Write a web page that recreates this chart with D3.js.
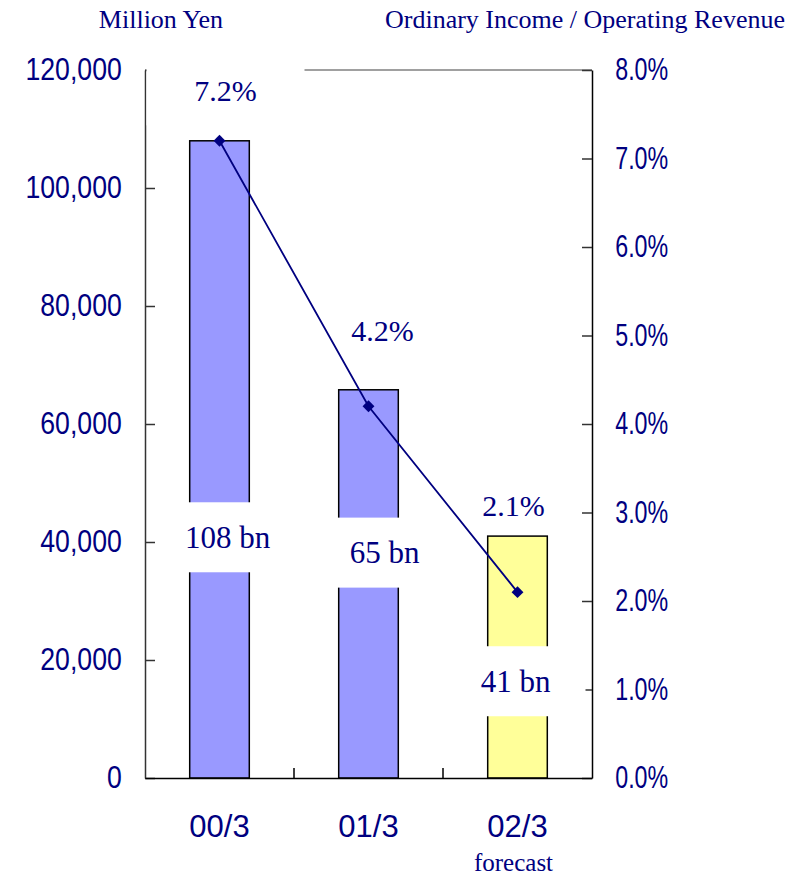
<!DOCTYPE html>
<html>
<head>
<meta charset="UTF-8">
<title>Ordinary Income</title>
<script src="https://cdn.jsdelivr.net/npm/d3@7"></script>
<style>
  body { margin: 0; background: #fff; }
</style>
</head>
<body>
<div id="app"></div>
<script>
    // data
    var years = ['00/3', '01/3', '02/3'];
    var income = [108000, 65800, 41000];        // million yen
    var ratio = [7.2, 4.2, 2.1];                // ordinary income / operating revenue (%)
    var incomeText = ['108 bn', '65 bn', '41 bn'];
    var leftTicks = [0, 20000, 40000, 60000, 80000, 100000, 120000];
    var rightTicks = [0, 1, 2, 3, 4, 5, 6, 7, 8];
    // where the labels sit (axis units)
    var incomeLabelAt = [40800, 38200, 16400];
    var ratioLabelAt = [7.77, 5.06, 3.08];
    var labelDx = [6, 14, -4];
    var navy = '#000080';

    var W = 811, H = 880;
    var x0 = 145, x1 = 592, yTop = 70, yBot = 778;

    var svg = d3.select('#app').append('svg')
        .attr('width', W).attr('height', H);

    var x = d3.scaleBand().domain(years).range([x0, x1])
        .paddingInner(0.6).paddingOuter(0.3);
    var yL = d3.scaleLinear().domain([0, 120000]).range([yBot, yTop]);
    var yR = d3.scaleLinear().domain([0, 8]).range([yBot, yTop]);
    var fmt = d3.format(',');

    // frame top line
    svg.append('line')
        .attr('x1', x0).attr('x2', x1).attr('y1', yTop).attr('y2', yTop)
        .attr('stroke', '#808080').attr('stroke-width', 1.5);

    // bars
    svg.selectAll('rect.bar').data(income).enter().append('rect')
        .attr('class', 'bar')
        .attr('x', function(d, i) { return x(years[i]); })
        .attr('width', x.bandwidth())
        .attr('y', function(d) { return yL(d); })
        .attr('height', function(d) { return yBot - yL(d); })
        .attr('fill', function(d, i) { return i == 2 ? '#ffff99' : '#9999ff'; })
        .attr('stroke', '#000').attr('stroke-width', 1.5);

    // left axis
    var axL = svg.append('g').attr('transform', 'translate(' + x0 + ',0)')
        .call(d3.axisLeft(yL).tickValues(leftTicks).tickFormat(fmt)
            .tickSizeInner(-10).tickSizeOuter(0).tickPadding(27));
    axL.select('.domain').attr('stroke', '#333').attr('stroke-width', 1.5);
    axL.selectAll('.tick line').attr('stroke', '#333').attr('stroke-width', 1.5);

    // right axis
    var axR = svg.append('g').attr('transform', 'translate(' + x1 + ',0)')
        .call(d3.axisRight(yR).tickValues(rightTicks)
            .tickFormat(function(d) { return d.toFixed(1) + '%'; })
            .tickSizeInner(-10).tickSizeOuter(0).tickPadding(31));
    axR.select('.domain').attr('stroke', '#000').attr('stroke-width', 1.5);
    axR.selectAll('.tick line').attr('stroke', '#333').attr('stroke-width', 1.5);

    // bottom axis
    var axB = svg.append('g').attr('transform', 'translate(0,' + yBot + ')')
        .call(d3.axisBottom(x).tickSize(0).tickPadding(37));
    axB.select('.domain').attr('stroke', '#000').attr('stroke-width', 1.5);
    // boundary ticks between categories
    var bounds = years.slice(1).map(function(d) { return x(d) + x.bandwidth() / 2 - x.step() / 2; });
    svg.selectAll('line.bt').data(bounds).enter().append('line')
        .attr('x1', function(d) { return d; }).attr('x2', function(d) { return d; })
        .attr('y1', yBot - 10).attr('y2', yBot)
        .attr('stroke', '#000').attr('stroke-width', 1.5);

    [axL, axR, axB].forEach(function(g) {
        g.selectAll('text')
            .attr('fill', navy)
            .style('font-family', '"Liberation Sans", Arial, sans-serif')
            .style('font-size', '31px');
    });
    axL.selectAll('.tick text').attr('transform', 'scale(0.86,1)');
    axR.selectAll('.tick text').attr('transform', 'scale(0.75,1)');

    // ratio line
    var line = d3.line()
        .x(function(d, i) { return x(years[i]) + x.bandwidth() / 2; })
        .y(function(d) { return yR(d); });
    svg.append('path').datum(ratio)
        .attr('d', line)
        .attr('fill', 'none').attr('stroke', navy).attr('stroke-width', 1.8);
    svg.selectAll('path.mk').data(ratio).enter().append('path')
        .attr('class', 'mk')
        .attr('d', d3.symbol().type(d3.symbolDiamond2).size(90))
        .attr('transform', function(d, i) {
            return 'translate(' + (x(years[i]) + x.bandwidth() / 2) + ',' + yR(d) + ')';
        })
        .attr('fill', navy);

    // labels with white boxes
    var serif = '"Liberation Serif", "Times New Roman", serif';
    function boxLabel(cx, cy, txt, size, bw, bh) {
        var g = svg.append('g');
        if (bw) {
            g.append('rect').attr('x', cx - bw / 2).attr('y', cy - bh / 2)
                .attr('width', bw).attr('height', bh).attr('fill', '#fff');
        }
        g.append('text').attr('x', cx).attr('y', cy).attr('dy', '0.35em')
            .attr('text-anchor', 'middle').attr('fill', navy)
            .style('font-family', serif)
            .style('font-size', size + 'px')
            .text(txt);
    }
    ratio.forEach(function(d, i) {
        var cx = x(years[i]) + x.bandwidth() / 2 + labelDx[i];
        boxLabel(cx, yR(ratioLabelAt[i]), d.toFixed(1) + '%', 30, i == 0 ? 158 : 0, 70);
    });
    income.forEach(function(d, i) {
        var cx = x(years[i]) + x.bandwidth() / 2 + labelDx[i] + 2;
        boxLabel(cx, yL(incomeLabelAt[i]), incomeText[i], 31, 140, 70);
    });

    // titles
    svg.append('text').attr('x', 161).attr('y', 28).attr('text-anchor', 'middle')
        .attr('fill', navy).style('font-family', serif).style('font-size', '26px')
        .text('Million Yen');
    svg.append('text').attr('x', 585).attr('y', 28).attr('text-anchor', 'middle')
        .attr('fill', navy).style('font-family', serif).style('font-size', '26px')
        .text('Ordinary Income / Operating Revenue');
    svg.append('text').attr('x', x(years[2]) + x.bandwidth() / 2 - 4).attr('y', 871)
        .attr('text-anchor', 'middle')
        .attr('fill', navy).style('font-family', serif).style('font-size', '25px')
        .text('forecast');
</script>
</body>
</html>
